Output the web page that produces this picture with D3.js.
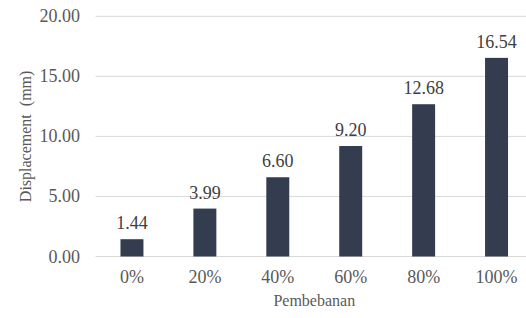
<!DOCTYPE html>
<html><head><meta charset="utf-8"><script src="https://cdn.jsdelivr.net/npm/d3@7"></script></head>
<body style="margin:0">
<script>
const categories = ["0%", "20%", "40%", "60%", "80%", "100%"];
const values = [1.44, 3.99, 6.60, 9.20, 12.68, 16.54];
const yTicks = [0, 5, 10, 15, 20];

const width = 526, height = 318;
const margin = { left: 95.5, right: -7, top: 16.3, bottom: 61.5 };

let svg = d3.select("body")
  .append("svg")
  .attr("width", width)
  .attr("height", height);

let x = d3.scaleBand()
  .domain(categories)
  .range([margin.left, width - margin.right])
  .paddingInner(0.685)
  .paddingOuter(0.3425);

let y = d3.scaleLinear()
  .domain([0, 20])
  .range([height - margin.bottom, margin.top]);

// gridlines
svg.append("g")
  .selectAll("line")
  .data(yTicks)
  .join("line")
  .attr("x1", margin.left)
  .attr("x2", width - margin.right)
  .attr("y1", d => y(d))
  .attr("y2", d => y(d))
  .attr("stroke", "#d9d9d9");

// y tick labels
svg.append("g")
  .selectAll("text")
  .data(yTicks)
  .join("text")
  .attr("x", 80)
  .attr("y", d => y(d) + 6)
  .attr("text-anchor", "end")
  .attr("font-family", "'Liberation Serif'")
  .attr("font-size", "18px")
  .attr("fill", "#595959")
  .text(d => d.toFixed(2));

// bars
svg.append("g")
  .selectAll("rect")
  .data(values)
  .join("rect")
  .attr("x", (d, i) => x(categories[i]))
  .attr("y", d => y(d))
  .attr("width", x.bandwidth())
  .attr("height", d => y(0) - y(d))
  .attr("fill", "#333d4f");

// value labels
svg.append("g")
  .selectAll("text")
  .data(values)
  .join("text")
  .attr("x", (d, i) => x(categories[i]) + x.bandwidth() / 2)
  .attr("y", d => y(d) - 10)
  .attr("text-anchor", "middle")
  .attr("font-family", "'Liberation Serif'")
  .attr("font-size", "18px")
  .attr("fill", "#404040")
  .text(d => d.toFixed(2));

// x tick labels
svg.append("g")
  .selectAll("text")
  .data(categories)
  .join("text")
  .attr("x", d => x(d) + x.bandwidth() / 2)
  .attr("y", 283)
  .attr("text-anchor", "middle")
  .attr("font-family", "'Liberation Serif'")
  .attr("font-size", "18px")
  .attr("fill", "#595959")
  .text(d => d);

// axis titles
svg.append("text")
  .attr("x", (margin.left + width - margin.right) / 2)
  .attr("y", 306)
  .attr("text-anchor", "middle")
  .attr("font-family", "'Liberation Serif'")
  .attr("font-size", "16px")
  .attr("fill", "#595959")
  .text("Pembebanan");

svg.append("text")
  .attr("transform", "translate(31," + y(10) + ") rotate(-90)")
  .attr("text-anchor", "middle")
  .attr("font-family", "'Liberation Serif'")
  .attr("font-size", "16px")
  .attr("fill", "#595959")
  .style("white-space", "pre")
  .text("Displacement  (mm)");
</script>
</body></html>
